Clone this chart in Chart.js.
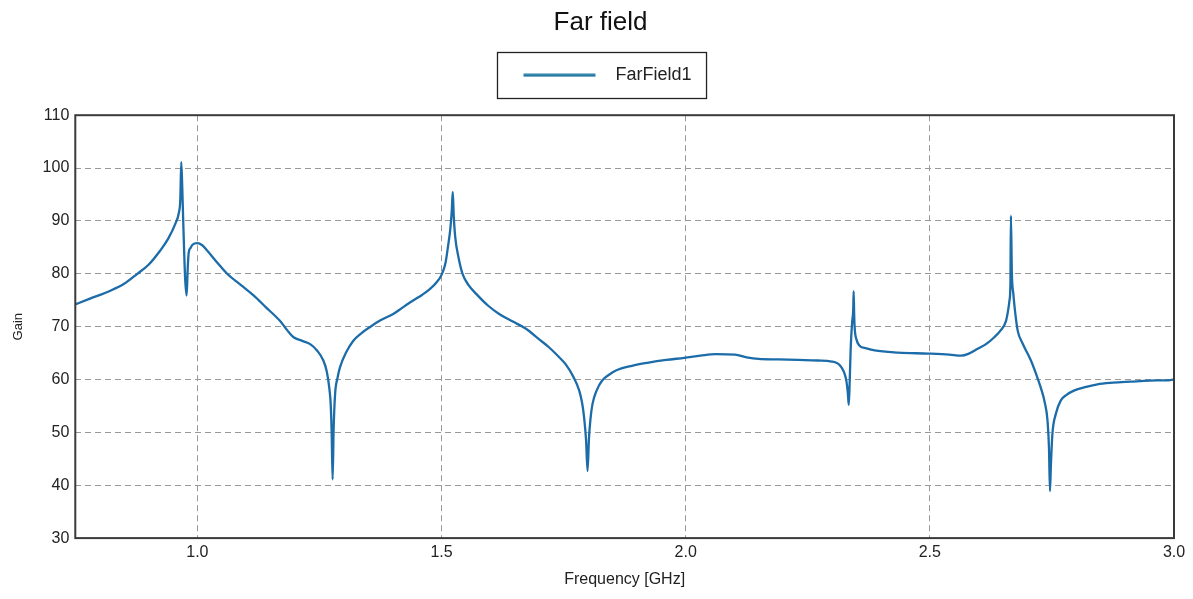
<!DOCTYPE html>
<html>
<head>
<meta charset="utf-8">
<title>Far field</title>
<script src="https://cdn.jsdelivr.net/npm/chart.js@4.4.1/dist/chart.umd.min.js"></script>
<style>
  body { margin: 0; background: #fff; }
  #wrap { width: 1193px; height: 599px; position: relative; }
</style>
</head>
<body>
<div id="wrap"><canvas id="farChart"></canvas></div>
<script>
// frequency points [GHz] and gain
var freq = [
  0.750, 0.780, 0.822, 0.850, 0.877, 0.900, 0.924, 0.940, 0.955, 0.962,
  0.965, 0.967, 0.969, 0.971, 0.973, 0.975, 0.978, 0.980, 0.982, 0.986,
  0.990, 1.000, 1.010, 1.020, 1.040, 1.061, 1.090, 1.115, 1.140, 1.169,
  1.185, 1.197, 1.215, 1.231, 1.245, 1.258, 1.265, 1.270, 1.273, 1.275,
  1.277, 1.279, 1.282, 1.287, 1.292, 1.305, 1.319, 1.335, 1.353, 1.375,
  1.401, 1.420, 1.441, 1.460, 1.476, 1.490, 1.500, 1.508, 1.513, 1.518,
  1.521, 1.523, 1.525, 1.528, 1.535, 1.543, 1.555, 1.571, 1.595, 1.618,
  1.645, 1.673, 1.700, 1.720, 1.740, 1.754, 1.770, 1.782, 1.788, 1.792,
  1.796, 1.799, 1.802, 1.805, 1.809, 1.818, 1.829, 1.843, 1.857, 1.890,
  1.924, 1.960, 1.997, 2.030, 2.061, 2.101, 2.125, 2.149, 2.190, 2.231,
  2.270, 2.299, 2.312, 2.319, 2.325, 2.329, 2.332, 2.334, 2.336, 2.338,
  2.341, 2.343, 2.344, 2.345, 2.346, 2.350, 2.356, 2.370, 2.387, 2.435,
  2.497, 2.540, 2.564, 2.580, 2.598, 2.615, 2.632, 2.645, 2.656, 2.661,
  2.663, 2.665, 2.666, 2.668, 2.671, 2.675, 2.680, 2.690, 2.707, 2.717,
  2.727, 2.735, 2.741, 2.744, 2.746, 2.748, 2.751, 2.758, 2.768, 2.780,
  2.795, 2.820, 2.843, 2.875, 2.911, 2.950, 2.993, 3.000
];
var gain = [
  74.2, 75.3, 76.8, 78.1, 80.0, 81.7, 84.4, 86.6, 89.5, 91.5,
  94.0, 101.1, 96.5, 90.0, 84.0, 79.0, 75.9, 80.5, 83.8, 84.9,
  85.5, 85.8, 85.4, 84.4, 82.2, 80.0, 77.8, 75.9, 73.7, 71.1,
  69.2, 68.0, 67.3, 66.7, 65.5, 63.6, 61.5, 58.5, 55.4, 50.0,
  41.1, 50.5, 57.2, 60.3, 62.3, 65.2, 67.3, 68.7, 69.9, 71.2,
  72.4, 73.6, 74.9, 76.0, 77.1, 78.4, 79.8, 82.0, 85.0, 88.5,
  92.0, 95.5, 91.0, 87.0, 83.0, 80.0, 77.9, 76.2, 74.0, 72.4,
  71.0, 69.6, 67.6, 66.1, 64.3, 62.9, 60.5, 57.9, 55.5, 52.8,
  48.5, 42.7, 49.0, 52.5, 55.3, 58.0, 59.8, 60.9, 61.7, 62.6,
  63.2, 63.7, 64.1, 64.5, 64.8, 64.7, 64.2, 63.9, 63.8, 63.7,
  63.6, 63.4, 63.0, 62.3, 61.2, 59.8, 57.5, 55.2, 60.0, 66.1,
  71.0, 73.0, 76.7, 72.5, 69.9, 67.5, 66.4, 65.9, 65.5, 65.1,
  64.9, 64.7, 64.5, 64.9, 65.8, 66.7, 68.0, 69.3, 71.1, 73.5,
  74.9, 78.0, 91.0, 80.0, 76.2, 72.5, 69.2, 66.8, 63.6, 61.2,
  58.5, 55.8, 52.2, 47.0, 38.9, 44.0, 49.7, 53.5, 56.0, 57.1,
  57.9, 58.6, 59.1, 59.4, 59.6, 59.8, 59.9, 60.0
];
var xTicks = [1.0, 1.5, 2.0, 2.5, 3.0];
var yTicks = [30, 40, 50, 60, 70, 80, 90, 100, 110];

var lineColor = '#1b6ca8';
var font = 'Liberation Sans, Arial, sans-serif';
var points = freq.map(function(f, i) { return { x: f, y: gain[i] }; });

// legend marker: a short line with some blank room on both sides
var marker = document.createElement('canvas');
marker.width = 117;
marker.height = 4;
var mctx = marker.getContext('2d');
mctx.strokeStyle = '#2379a3';
mctx.lineWidth = 3;
mctx.beginPath();
mctx.moveTo(34, 2);
mctx.lineTo(106, 2);
mctx.stroke();

// more room under the legend, title nudged right a little
var layoutTweaks = {
    id: 'layoutTweaks',
    beforeInit: function(chart) {
        var fit = chart.legend.fit;
        chart.legend.fit = function() {
            fit.bind(chart.legend)();
            this.height += 21;
        };
    },
    afterLayout: function(chart) {
        chart.titleBlock.left += 10;
        chart.titleBlock.right += 10;
    }
};

// box round the legend and frame round the plot
var framePlugin = {
    id: 'frame',
    afterDraw: function(chart) {
        var ctx = chart.ctx;
        var a = chart.chartArea;
        ctx.save();
        ctx.strokeStyle = '#3a3a3a';
        ctx.lineWidth = 2;
        ctx.strokeRect(a.left, a.top, a.right - a.left, a.bottom - a.top);
        var hb = chart.legend.legendHitBoxes[0];
        if (hb) {
            ctx.lineWidth = 1.3;
            ctx.strokeStyle = '#222';
            ctx.strokeRect(Math.round(hb.left) + 8.5, Math.round(hb.top) - 13.5, hb.width + 7, hb.height + 28);
        }
        ctx.restore();
    }
};

var ctx = document.getElementById('farChart').getContext('2d');
var chart = new Chart(ctx, {
    type: 'line',
    data: {
        datasets: [{
            label: 'FarField1',
            data: points,
            borderColor: lineColor,
            backgroundColor: lineColor,
            borderWidth: 2.3,
            pointRadius: 0,
            cubicInterpolationMode: 'monotone',
            fill: false
        }]
    },
    options: {
        responsive: true,
        maintainAspectRatio: false,
        animation: false,
        layout: { padding: { left: 7, right: 19, top: 6, bottom: 5.5 } },
        plugins: {
            title: {
                display: true,
                text: 'Far field',
                color: '#111',
                font: { family: font, size: 26, weight: 'normal' },
                padding: { top: 1, bottom: 7 }
            },
            legend: {
                position: 'top',
                labels: {
                    usePointStyle: true,
                    pointStyle: marker,
                    pointStyleWidth: 117,
                    boxHeight: 4,
                    color: '#222',
                    font: { family: font, size: 18 },
                    padding: 21
                }
            },
            tooltip: { enabled: false }
        },
        scales: {
            x: {
                type: 'linear',
                min: 0.75,
                max: 3.0,
                afterBuildTicks: function(scale) {
                    scale.ticks = xTicks.map(function(v) { return { value: v }; });
                },
                ticks: {
                    color: '#222',
                    font: { family: font, size: 16 },
                    padding: 5,
                    callback: function(v) { return Number(v).toFixed(1); }
                },
                grid: { color: '#999', drawTicks: false },
                border: { display: false, dash: [6, 4] },
                title: {
                    display: true,
                    text: 'Frequency [GHz]',
                    color: '#222',
                    font: { family: font, size: 16 },
                    padding: { top: 3, bottom: 4 }
                }
            },
            y: {
                min: 30,
                max: 110,
                afterBuildTicks: function(scale) {
                    scale.ticks = yTicks.map(function(v) { return { value: v }; });
                },
                ticks: {
                    color: '#222',
                    font: { family: font, size: 16 },
                    padding: 6
                },
                grid: { color: '#999', drawTicks: false },
                border: { display: false, dash: [6, 4] },
                title: {
                    display: true,
                    text: 'Gain',
                    color: '#222',
                    font: { family: font, size: 13 },
                    padding: { bottom: 10 }
                }
            }
        }
    },
    plugins: [layoutTweaks, framePlugin]
});
</script>
</body>
</html>
